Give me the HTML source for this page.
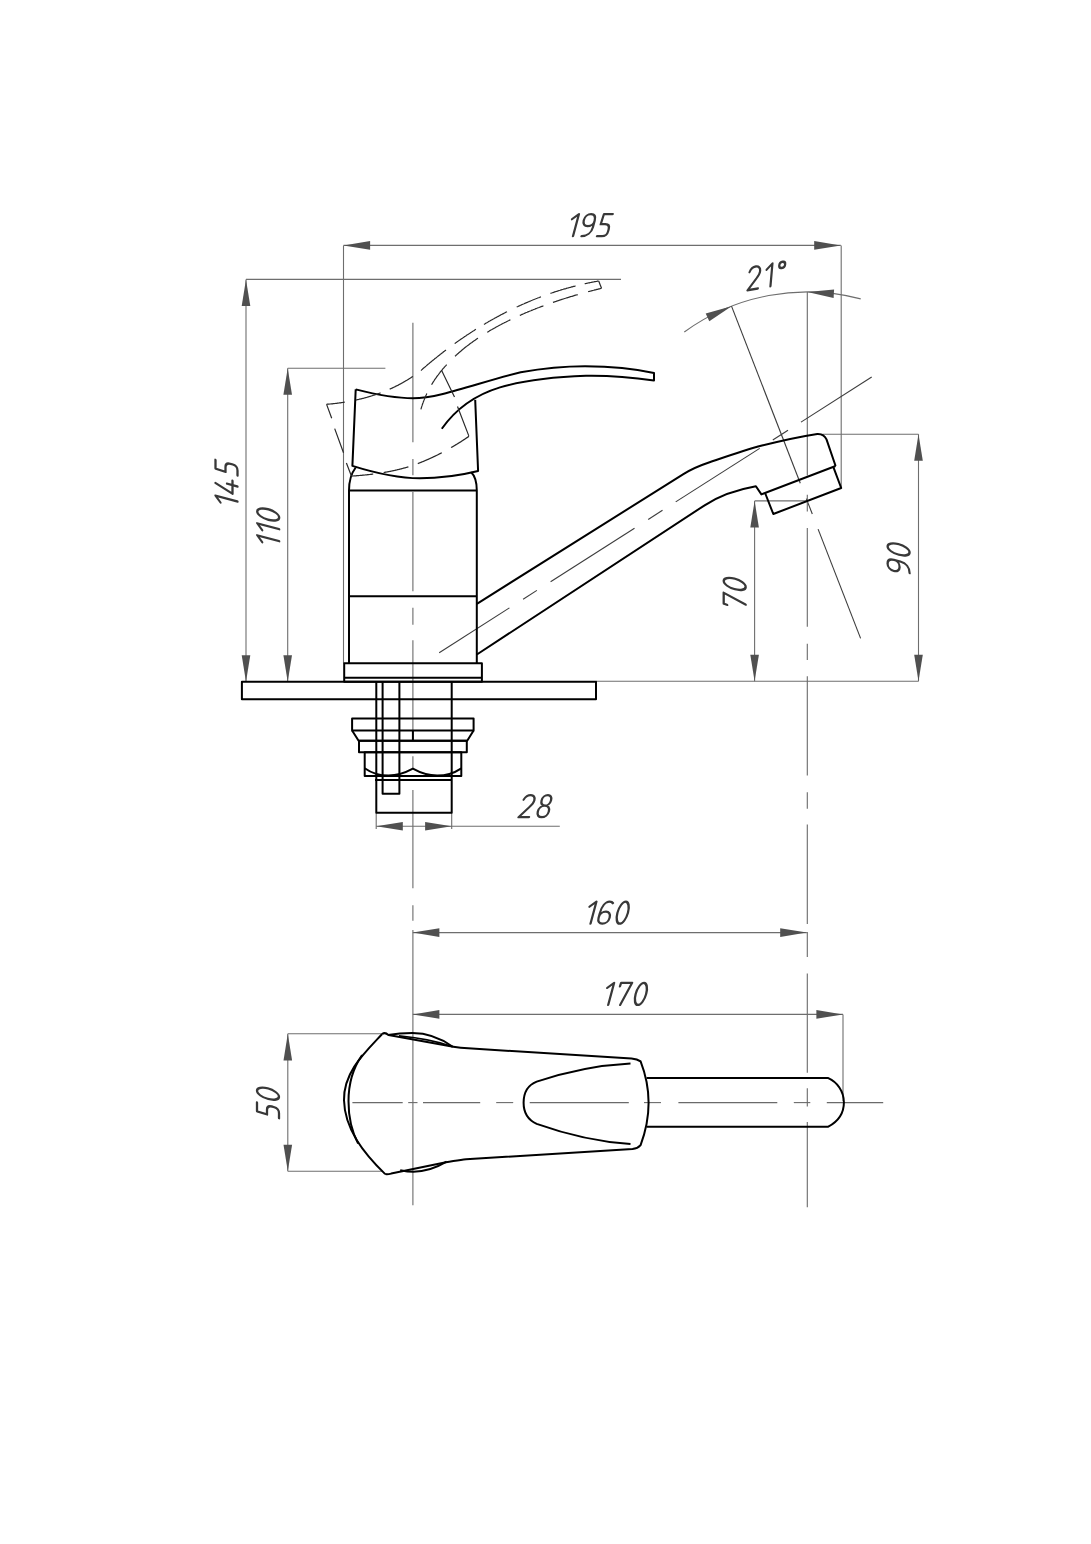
<!DOCTYPE html>
<html><head><meta charset="utf-8"><style>
html,body{margin:0;padding:0;background:#fff;}
svg{display:block;}
</style></head><body>
<svg width="1091" height="1544" viewBox="0 0 1091 1544">
<rect width="1091" height="1544" fill="#fff"/>
<line x1="343.5" y1="245.4" x2="840.8" y2="245.4" stroke="#6e6e6e" stroke-width="1.1" fill="none"/>
<polygon points="343.5,245.4 370.1,241.1 370.1,249.7" fill="#505050"/>
<polygon points="840.8,245.4 814.2,249.7 814.2,241.1" fill="#505050"/>
<line x1="343.5" y1="245.4" x2="343.5" y2="663.4" stroke="#6e6e6e" stroke-width="1.1" fill="none"/>
<line x1="841.2" y1="245.4" x2="841.2" y2="488.0" stroke="#6e6e6e" stroke-width="1.1" fill="none"/>
<g transform="translate(567.5,236.2) skewX(-15)" stroke="#383838" stroke-width="2.3" fill="none" stroke-linecap="round" stroke-linejoin="round" aria-label="195"><title>195</title><path transform="translate(0.00,0)" d="M0,-17 L5.5,-22 L5.5,0"/><path transform="translate(12.00,0)" d="M11,-15.5 C11,-19.8 8.6,-22 5.5,-22 C2.4,-22 0,-19.6 0,-16 C0,-12.4 2.4,-10 5.5,-10 C8.6,-10 11,-12.2 11,-15.5 L11,-9 C11,-3.5 7.5,0 2,0"/><path transform="translate(29.50,0)" d="M9.8,-22 L1,-22 L0.5,-12 L5,-12 Q9.8,-12 9.8,-7 L9.8,-5 Q9.8,0 5,0 L0,0"/></g>
<line x1="246.0" y1="279.4" x2="246.0" y2="681.8" stroke="#6e6e6e" stroke-width="1.1" fill="none"/>
<polygon points="246.0,279.4 250.3,306.0 241.7,306.0" fill="#505050"/>
<polygon points="246.0,681.8 241.7,655.2 250.3,655.2" fill="#505050"/>
<line x1="246.0" y1="279.4" x2="621.0" y2="279.4" stroke="#6e6e6e" stroke-width="1.1" fill="none"/>
<g transform="translate(237.5,507.0) rotate(-90) skewX(-15)" stroke="#383838" stroke-width="2.3" fill="none" stroke-linecap="round" stroke-linejoin="round" aria-label="145"><title>145</title><path transform="translate(0.00,0)" d="M0,-17 L5.5,-22 L5.5,0"/><path transform="translate(12.00,0)" d="M6,-22 L0,-5 L13,-5 M8.5,-10.5 L8.5,0"/><path transform="translate(31.50,0)" d="M9.8,-22 L1,-22 L0.5,-12 L5,-12 Q9.8,-12 9.8,-7 L9.8,-5 Q9.8,0 5,0 L0,0"/></g>
<line x1="287.7" y1="368.2" x2="287.7" y2="681.8" stroke="#6e6e6e" stroke-width="1.1" fill="none"/>
<polygon points="287.7,368.2 292.0,394.8 283.4,394.8" fill="#505050"/>
<polygon points="287.7,681.8 283.4,655.2 292.0,655.2" fill="#505050"/>
<line x1="287.7" y1="368.2" x2="385.4" y2="368.2" stroke="#6e6e6e" stroke-width="1.1" fill="none"/>
<g transform="translate(279.2,546.7) rotate(-90) skewX(-15)" stroke="#383838" stroke-width="2.3" fill="none" stroke-linecap="round" stroke-linejoin="round" aria-label="110"><title>110</title><path transform="translate(0.00,0)" d="M0,-17 L5.5,-22 L5.5,0"/><path transform="translate(12.00,0)" d="M0,-17 L5.5,-22 L5.5,0"/><path transform="translate(24.00,0)" d="M5.25,-22 C8.2,-22 10.5,-17 10.5,-11 C10.5,-5 8.2,0 5.25,0 C2.3,0 0,-5 0,-11 C0,-17 2.3,-22 5.25,-22 Z"/></g>
<line x1="596.0" y1="681.3" x2="918.5" y2="681.3" stroke="#6e6e6e" stroke-width="1.1" fill="none"/>
<line x1="754.6" y1="500.9" x2="754.6" y2="681.3" stroke="#6e6e6e" stroke-width="1.1" fill="none"/>
<polygon points="754.6,500.9 758.9,527.5 750.3,527.5" fill="#505050"/>
<polygon points="754.6,681.3 750.3,654.7 758.9,654.7" fill="#505050"/>
<line x1="754.6" y1="500.9" x2="807.0" y2="500.9" stroke="#6e6e6e" stroke-width="1.1" fill="none"/>
<g transform="translate(745.7,610.1) rotate(-90) skewX(-15)" stroke="#383838" stroke-width="2.3" fill="none" stroke-linecap="round" stroke-linejoin="round" aria-label="70"><title>70</title><path transform="translate(0.00,0)" d="M0.3,-18.5 L0.5,-22 L11.5,-22 L5.5,0"/><path transform="translate(18.00,0)" d="M5.25,-22 C8.2,-22 10.5,-17 10.5,-11 C10.5,-5 8.2,0 5.25,0 C2.3,0 0,-5 0,-11 C0,-17 2.3,-22 5.25,-22 Z"/></g>
<line x1="918.5" y1="434.2" x2="918.5" y2="681.3" stroke="#6e6e6e" stroke-width="1.1" fill="none"/>
<polygon points="918.5,434.2 922.8,460.8 914.2,460.8" fill="#505050"/>
<polygon points="918.5,681.3 914.2,654.7 922.8,654.7" fill="#505050"/>
<line x1="817.0" y1="434.2" x2="918.5" y2="434.2" stroke="#6e6e6e" stroke-width="1.1" fill="none"/>
<g transform="translate(909.6,575.1) rotate(-90) skewX(-15)" stroke="#383838" stroke-width="2.3" fill="none" stroke-linecap="round" stroke-linejoin="round" aria-label="90"><title>90</title><path transform="translate(0.00,0)" d="M11,-15.5 C11,-19.8 8.6,-22 5.5,-22 C2.4,-22 0,-19.6 0,-16 C0,-12.4 2.4,-10 5.5,-10 C8.6,-10 11,-12.2 11,-15.5 L11,-9 C11,-3.5 7.5,0 2,0"/><path transform="translate(17.50,0)" d="M5.25,-22 C8.2,-22 10.5,-17 10.5,-11 C10.5,-5 8.2,0 5.25,0 C2.3,0 0,-5 0,-11 C0,-17 2.3,-22 5.25,-22 Z"/></g>
<path d="M684.3,332.0 A209.2,209.2 0 0 1 860.7,298.9" stroke="#6e6e6e" stroke-width="1.1" fill="none"/>
<polygon points="731.6,306.2 709.3,321.2 705.7,313.4" fill="#505050"/>
<polygon points="807.3,292.0 834.1,289.4 833.6,298.0" fill="#505050"/>
<g transform="translate(747.5,290.3) rotate(-10) skewX(-15)" stroke="#383838" stroke-width="2.3" fill="none" stroke-linecap="round" stroke-linejoin="round" aria-label="21°"><title>21°</title><path transform="translate(0.00,0)" d="M0.5,-17.5 C1.5,-20.5 3.8,-22 6.2,-22 C9.2,-22 11.3,-19.8 11.3,-16.8 C11.3,-14 9.8,-12 8,-10 L0,0 L10.5,0"/><path transform="translate(17.80,0)" d="M0,-17 L5.5,-22 L5.5,0"/></g>
<g transform="translate(747.5,290.3) rotate(-10) skewX(-15)" stroke="#383838" stroke-width="2.3" fill="none" stroke-linecap="round" stroke-linejoin="round"><path transform="translate(30.5,0)" d="M3,-22 C4.7,-22 6,-20.7 6,-19 C6,-17.3 4.7,-16 3,-16 C1.3,-16 0,-17.3 0,-19 C0,-20.7 1.3,-22 3,-22 Z"/></g>
<line x1="731.5" y1="306.1" x2="800.3" y2="483.2" stroke="#3c3c3c" stroke-width="1.1" fill="none"/>
<line x1="806.3" y1="498.6" x2="812.3" y2="514.0" stroke="#3c3c3c" stroke-width="1.1" fill="none"/>
<line x1="818.1" y1="529.1" x2="860.6" y2="638.4" stroke="#3c3c3c" stroke-width="1.1" fill="none"/>
<line x1="807.3" y1="292.0" x2="807.3" y2="475.5" stroke="#6a6a6a" stroke-width="1.1" fill="none"/>
<line x1="807.3" y1="494.8" x2="807.3" y2="511.5" stroke="#6a6a6a" stroke-width="1.1" fill="none"/>
<line x1="807.3" y1="528.0" x2="807.3" y2="626.8" stroke="#6a6a6a" stroke-width="1.1" fill="none"/>
<line x1="807.3" y1="643.7" x2="807.3" y2="660.0" stroke="#6a6a6a" stroke-width="1.1" fill="none"/>
<line x1="807.3" y1="676.3" x2="807.3" y2="775.5" stroke="#6a6a6a" stroke-width="1.1" fill="none"/>
<line x1="807.3" y1="792.2" x2="807.3" y2="808.8" stroke="#6a6a6a" stroke-width="1.1" fill="none"/>
<line x1="807.3" y1="824.5" x2="807.3" y2="924.0" stroke="#6a6a6a" stroke-width="1.1" fill="none"/>
<line x1="807.3" y1="932.0" x2="807.3" y2="957.0" stroke="#6a6a6a" stroke-width="1.1" fill="none"/>
<line x1="807.3" y1="973.6" x2="807.3" y2="1072.7" stroke="#6a6a6a" stroke-width="1.1" fill="none"/>
<line x1="807.3" y1="1088.2" x2="807.3" y2="1106.5" stroke="#6a6a6a" stroke-width="1.1" fill="none"/>
<line x1="807.3" y1="1122.0" x2="807.3" y2="1207.3" stroke="#6a6a6a" stroke-width="1.1" fill="none"/>
<line x1="412.9" y1="322.8" x2="412.9" y2="442.2" stroke="#6a6a6a" stroke-width="1.1" fill="none"/>
<line x1="412.9" y1="459.0" x2="412.9" y2="475.3" stroke="#6a6a6a" stroke-width="1.1" fill="none"/>
<line x1="412.9" y1="492.0" x2="412.9" y2="591.3" stroke="#6a6a6a" stroke-width="1.1" fill="none"/>
<line x1="412.9" y1="607.7" x2="412.9" y2="624.7" stroke="#6a6a6a" stroke-width="1.1" fill="none"/>
<line x1="412.9" y1="640.3" x2="412.9" y2="740.8" stroke="#6a6a6a" stroke-width="1.1" fill="none"/>
<line x1="412.9" y1="756.3" x2="412.9" y2="768.5" stroke="#6a6a6a" stroke-width="1.1" fill="none"/>
<line x1="412.9" y1="790.0" x2="412.9" y2="888.3" stroke="#6a6a6a" stroke-width="1.1" fill="none"/>
<line x1="412.9" y1="905.2" x2="412.9" y2="920.7" stroke="#6a6a6a" stroke-width="1.1" fill="none"/>
<line x1="412.9" y1="930.0" x2="412.9" y2="1205.2" stroke="#6a6a6a" stroke-width="1.1" fill="none"/>
<line x1="376.2" y1="812.7" x2="376.2" y2="829.0" stroke="#6e6e6e" stroke-width="1.1" fill="none"/>
<line x1="451.7" y1="812.7" x2="451.7" y2="829.0" stroke="#6e6e6e" stroke-width="1.1" fill="none"/>
<line x1="376.2" y1="826.3" x2="559.8" y2="826.3" stroke="#6e6e6e" stroke-width="1.1" fill="none"/>
<polygon points="376.2,826.3 402.8,822.0 402.8,830.6" fill="#505050"/>
<polygon points="451.7,826.3 425.1,830.6 425.1,822.0" fill="#505050"/>
<g transform="translate(518.5,817.2) skewX(-15)" stroke="#383838" stroke-width="2.3" fill="none" stroke-linecap="round" stroke-linejoin="round" aria-label="28"><title>28</title><path transform="translate(0.00,0)" d="M0.5,-17.5 C1.5,-20.5 3.8,-22 6.2,-22 C9.2,-22 11.3,-19.8 11.3,-16.8 C11.3,-14 9.8,-12 8,-10 L0,0 L10.5,0"/><path transform="translate(17.80,0)" d="M5.5,-22 C8.2,-22 10.2,-20 10.2,-16.8 C10.2,-13.5 8.2,-11.5 5.5,-11.5 C2.8,-11.5 0.8,-13.5 0.8,-16.8 C0.8,-20 2.8,-22 5.5,-22 Z M5.5,-11.5 C8.7,-11.5 11,-9 11,-5.7 C11,-2.3 8.7,0 5.5,0 C2.3,0 0,-2.3 0,-5.7 C0,-9 2.3,-11.5 5.5,-11.5 Z"/></g>
<line x1="412.8" y1="932.6" x2="806.8" y2="932.6" stroke="#6e6e6e" stroke-width="1.1" fill="none"/>
<polygon points="412.8,932.6 439.4,928.3 439.4,936.9" fill="#505050"/>
<polygon points="806.8,932.6 780.2,936.9 780.2,928.3" fill="#505050"/>
<g transform="translate(585.0,923.7) skewX(-15)" stroke="#383838" stroke-width="2.3" fill="none" stroke-linecap="round" stroke-linejoin="round" aria-label="160"><title>160</title><path transform="translate(0.00,0)" d="M0,-17 L5.5,-22 L5.5,0"/><path transform="translate(12.00,0)" d="M10.5,-20.5 C9.5,-21.6 8,-22 6.5,-22 C2.6,-22 0,-17.5 0,-10 L0,-6 C0,-2.4 2.4,0 5.5,0 C8.6,0 11,-2.4 11,-6 C11,-9.6 8.6,-12 5.5,-12 C2.4,-12 0,-9.6 0,-6"/><path transform="translate(29.50,0)" d="M5.25,-22 C8.2,-22 10.5,-17 10.5,-11 C10.5,-5 8.2,0 5.25,0 C2.3,0 0,-5 0,-11 C0,-17 2.3,-22 5.25,-22 Z"/></g>
<line x1="412.8" y1="1014.4" x2="843.0" y2="1014.4" stroke="#6e6e6e" stroke-width="1.1" fill="none"/>
<polygon points="412.8,1014.4 439.4,1010.1 439.4,1018.7" fill="#505050"/>
<polygon points="843.0,1014.4 816.4,1018.7 816.4,1010.1" fill="#505050"/>
<line x1="843.0" y1="1014.4" x2="843.0" y2="1101.0" stroke="#6e6e6e" stroke-width="1.1" fill="none"/>
<g transform="translate(602.7,1004.9) skewX(-15)" stroke="#383838" stroke-width="2.3" fill="none" stroke-linecap="round" stroke-linejoin="round" aria-label="170"><title>170</title><path transform="translate(0.00,0)" d="M0,-17 L5.5,-22 L5.5,0"/><path transform="translate(12.00,0)" d="M0.3,-18.5 L0.5,-22 L11.5,-22 L5.5,0"/><path transform="translate(30.00,0)" d="M5.25,-22 C8.2,-22 10.5,-17 10.5,-11 C10.5,-5 8.2,0 5.25,0 C2.3,0 0,-5 0,-11 C0,-17 2.3,-22 5.25,-22 Z"/></g>
<line x1="287.8" y1="1033.8" x2="287.8" y2="1171.3" stroke="#6e6e6e" stroke-width="1.1" fill="none"/>
<polygon points="287.8,1033.8 292.1,1060.4 283.5,1060.4" fill="#505050"/>
<polygon points="287.8,1171.3 283.5,1144.7 292.1,1144.7" fill="#505050"/>
<line x1="287.8" y1="1033.8" x2="381.8" y2="1033.8" stroke="#6e6e6e" stroke-width="1.1" fill="none"/>
<line x1="287.8" y1="1171.3" x2="383.0" y2="1171.3" stroke="#6e6e6e" stroke-width="1.1" fill="none"/>
<g transform="translate(279.0,1118.2) rotate(-90) skewX(-15)" stroke="#383838" stroke-width="2.3" fill="none" stroke-linecap="round" stroke-linejoin="round" aria-label="50"><title>50</title><path transform="translate(0.00,0)" d="M9.8,-22 L1,-22 L0.5,-12 L5,-12 Q9.8,-12 9.8,-7 L9.8,-5 Q9.8,0 5,0 L0,0"/><path transform="translate(16.30,0)" d="M5.25,-22 C8.2,-22 10.5,-17 10.5,-11 C10.5,-5 8.2,0 5.25,0 C2.3,0 0,-5 0,-11 C0,-17 2.3,-22 5.25,-22 Z"/></g>
<line x1="439.2" y1="652.7" x2="509.4" y2="607.9" stroke="#3c3c3c" stroke-width="1.1" fill="none"/>
<line x1="523.1" y1="599.2" x2="536.9" y2="590.4" stroke="#3c3c3c" stroke-width="1.1" fill="none"/>
<line x1="550.6" y1="581.7" x2="634.5" y2="528.2" stroke="#3c3c3c" stroke-width="1.1" fill="none"/>
<line x1="648.2" y1="519.5" x2="662.5" y2="510.3" stroke="#3c3c3c" stroke-width="1.1" fill="none"/>
<line x1="675.7" y1="501.9" x2="759.7" y2="448.4" stroke="#3c3c3c" stroke-width="1.1" fill="none"/>
<line x1="772.8" y1="440.0" x2="788.0" y2="430.3" stroke="#3c3c3c" stroke-width="1.1" fill="none"/>
<line x1="801.0" y1="422.1" x2="871.7" y2="377.0" stroke="#3c3c3c" stroke-width="1.1" fill="none"/>
<line x1="352.4" y1="1102.6" x2="402.7" y2="1102.6" stroke="#6a6a6a" stroke-width="1.1" fill="none"/>
<line x1="408.2" y1="1102.6" x2="417.5" y2="1102.6" stroke="#6a6a6a" stroke-width="1.1" fill="none"/>
<line x1="423.0" y1="1102.6" x2="480.2" y2="1102.6" stroke="#6a6a6a" stroke-width="1.1" fill="none"/>
<line x1="496.2" y1="1102.6" x2="513.2" y2="1102.6" stroke="#6a6a6a" stroke-width="1.1" fill="none"/>
<line x1="529.7" y1="1102.6" x2="628.8" y2="1102.6" stroke="#6a6a6a" stroke-width="1.1" fill="none"/>
<line x1="644.0" y1="1102.6" x2="661.0" y2="1102.6" stroke="#6a6a6a" stroke-width="1.1" fill="none"/>
<line x1="678.4" y1="1102.6" x2="777.3" y2="1102.6" stroke="#6a6a6a" stroke-width="1.1" fill="none"/>
<line x1="793.8" y1="1102.6" x2="810.3" y2="1102.6" stroke="#6a6a6a" stroke-width="1.1" fill="none"/>
<line x1="826.8" y1="1102.6" x2="883.2" y2="1102.6" stroke="#6a6a6a" stroke-width="1.1" fill="none"/>
<rect x="241.9" y="681.8" width="354.1" height="17.5" stroke="#000" stroke-width="2" fill="none" stroke-linejoin="round"/>
<rect x="344.2" y="663.2" width="137.7" height="18.6" stroke="#000" stroke-width="2" fill="none" stroke-linejoin="round"/>
<line x1="344.2" y1="677.8" x2="481.9" y2="677.8" stroke="#000" stroke-width="2" fill="none" stroke-linejoin="round"/>
<path d="M349,663.2 L349,490.6 C349,480 351.5,473 355.7,467.5" stroke="#000" stroke-width="2" fill="none" stroke-linejoin="round" />
<path d="M476.8,663.2 L476.8,490.6 C476.8,482 475,476 471.2,472.3" stroke="#000" stroke-width="2" fill="none" stroke-linejoin="round" />
<line x1="349.0" y1="490.6" x2="476.8" y2="490.6" stroke="#000" stroke-width="2" fill="none" stroke-linejoin="round"/>
<line x1="349.0" y1="596.3" x2="476.8" y2="596.3" stroke="#000" stroke-width="2" fill="none" stroke-linejoin="round"/>
<path d="M355.7,389.4 C376,394.5 396,398.3 413,398.3 C440,398.3 480,382 520.7,372.3 C545,368 565,366.3 585,366.3 C612,366.5 637,369.3 654,373 L654,380.5 C630,377 605,375.5 586,375.8 C552,377 520,381.5 500,387.4 C475,395 455,410 441.8,428.8 M475.2,399.9 L478.1,471 C460,475.5 440,478.3 419.8,478.3 C398,478.3 375,473 352.4,465.9 L355.7,389.4" stroke="#000" stroke-width="2" fill="none" stroke-linejoin="round" />
<path d="M326.5,404.3 L326.8,404.3 L327.2,404.2 L327.5,404.2 L327.9,404.2 L328.2,404.2 L328.5,404.1 L328.9,404.1 L329.2,404.1 L329.5,404.0 L329.9,404.0 L330.2,404.0 L330.6,404.0 L330.9,403.9 L331.2,403.9 L331.6,403.9 L331.9,403.8 L332.2,403.8 L332.6,403.8 L332.9,403.7 L333.3,403.7 L333.6,403.6 L333.9,403.6 L334.3,403.6 L334.6,403.5 L335.0,403.5 L335.3,403.5 L335.6,403.4 L336.0,403.4 L336.3,403.3 L336.6,403.3 L337.0,403.3 L337.3,403.2 L337.7,403.2 L338.0,403.1 L338.3,403.1 L338.7,403.0 L339.0,403.0 L339.3,402.9 L339.7,402.9 L340.0,402.9 L340.4,402.8 L340.7,402.8 L341.0,402.7 L341.4,402.7 L341.7,402.6 L342.0,402.6 L342.4,402.5 L342.7,402.5 L343.0,402.4 L343.4,402.4 L343.7,402.3 L344.1,402.3 L344.4,402.2 L344.7,402.2" stroke="#2a2a2a" stroke-width="1.2" fill="none" stroke-linecap="butt"/>
<path d="M355.8,400.1 L356.1,400.0 L356.4,399.9 L356.8,399.9 L357.1,399.8 L357.4,399.7 L357.8,399.6 L358.1,399.6 L358.4,399.5 L358.8,399.4 L359.1,399.3 L359.4,399.2 L359.8,399.2 L360.1,399.1 L360.4,399.0 L360.7,398.9 L361.1,398.8 L361.4,398.8 L361.7,398.7 L362.1,398.6 L362.4,398.5 L362.7,398.4 L363.1,398.3 L363.4,398.3 L363.7,398.2 L364.0,398.1 L364.4,398.0 L364.7,397.9 L365.0,397.8 L365.4,397.7 L365.7,397.6 L366.0,397.6 L366.3,397.5 L366.7,397.4 L367.0,397.3 L367.3,397.2 L367.7,397.1 L368.0,397.0 L368.3,396.9 L368.6,396.8 L369.0,396.7 L369.3,396.6 L369.6,396.5 L369.9,396.4 L370.3,396.3 L370.6,396.2 L370.9,396.1 L371.2,396.0 L371.6,395.9 L371.9,395.8 L372.2,395.7 L372.5,395.6 L372.9,395.5 L373.2,395.4 L373.5,395.3 L373.8,395.2 L374.2,395.1 L374.5,395.0 L374.8,394.9 L375.1,394.8 L375.4,394.7 L375.8,394.6 L376.1,394.5 L376.4,394.4 L376.7,394.2 L377.1,394.1 L377.4,394.0 L377.7,393.9 L378.0,393.8 L378.3,393.7 L378.7,393.6 L379.0,393.5 L379.3,393.3 L379.6,393.2 L379.9,393.1 L380.3,393.0 L380.6,392.9" stroke="#2a2a2a" stroke-width="1.2" fill="none" stroke-linecap="butt"/>
<path d="M389.7,389.2 L390.0,389.0 L390.3,388.9 L390.6,388.8 L390.9,388.6 L391.2,388.5 L391.5,388.3 L391.9,388.2 L392.2,388.1 L392.5,387.9 L392.8,387.8 L393.1,387.6 L393.4,387.5 L393.7,387.3 L394.0,387.2 L394.3,387.0 L394.6,386.9 L394.9,386.7 L395.2,386.6 L395.5,386.4 L395.8,386.3 L396.1,386.1 L396.4,386.0 L396.7,385.8 L397.1,385.7 L397.4,385.5 L397.7,385.4 L398.0,385.2 L398.3,385.1 L398.6,384.9 L398.9,384.8 L399.2,384.6 L399.5,384.4 L399.8,384.3 L400.1,384.1 L400.4,384.0 L400.7,383.8 L401.0,383.6 L401.3,383.5 L401.6,383.3 L401.9,383.1 L402.2,383.0 L402.5,382.8 L402.7,382.7 L403.0,382.5 L403.3,382.3 L403.6,382.1 L403.9,382.0 L404.2,381.8 L404.5,381.6 L404.8,381.5 L405.1,381.3 L405.4,381.1 L405.7,380.9 L406.0,380.8 L406.3,380.6 L406.6,380.4 L406.9,380.2 L407.1,380.1 L407.4,379.9 L407.7,379.7 L408.0,379.5 L408.3,379.4 L408.6,379.2 L408.9,379.0 L409.2,378.8 L409.5,378.6 L409.8,378.4 L410.0,378.3 L410.3,378.1 L410.6,377.9 L410.9,377.7 L411.2,377.5 L411.5,377.3 L411.8,377.1 L412.0,377.0 L412.3,376.8 L412.6,376.6 L412.9,376.4" stroke="#2a2a2a" stroke-width="1.2" fill="none" stroke-linecap="butt"/>
<path d="M420.9,370.5 L420.9,370.5 L421.4,370.1 L421.9,369.6 L422.4,369.2 L422.9,368.7 L423.4,368.3 L424.0,367.8 L424.5,367.4 L425.0,367.0 L425.5,366.5 L426.0,366.1 L426.5,365.6 L427.0,365.2 L427.5,364.8 L428.1,364.3 L428.6,363.9 L429.1,363.5 L429.6,363.0 L430.1,362.6 L430.6,362.2 L431.2,361.7 L431.7,361.3 L432.2,360.9 L432.7,360.5 L433.3,360.0 L433.8,359.6 L434.3,359.2 L434.8,358.7 L435.3,358.3 L435.9,357.9 L436.4,357.5 L436.9,357.1 L437.5,356.6 L438.0,356.2 L438.5,355.8 L439.0,355.4 L439.6,355.0 L440.1,354.5 L440.6,354.1 L441.2,353.7 L441.7,353.3 L442.2,352.9 L442.8,352.5 L443.3,352.0 L443.8,351.6 L444.4,351.2 L444.9,350.8 L445.4,350.4 L446.0,350.0" stroke="#2a2a2a" stroke-width="1.2" fill="none" stroke-linecap="butt"/>
<path d="M454.7,343.6 L455.2,343.2 L455.8,342.8 L456.3,342.4 L456.9,342.0 L457.4,341.6 L458.0,341.2 L458.5,340.8 L459.1,340.5 L459.6,340.1 L460.2,339.7 L460.7,339.3 L461.3,338.9 L461.9,338.5 L462.4,338.2 L463.0,337.8 L463.5,337.4 L464.1,337.0 L464.6,336.6 L465.2,336.3 L465.8,335.9 L466.3,335.5 L466.9,335.1 L467.4,334.8 L468.0,334.4 L468.6,334.0 L469.1,333.7 L469.7,333.3 L470.3,332.9 L470.8,332.5 L471.4,332.2 L472.0,331.8 L472.5,331.4 L473.1,331.1 L473.7,330.7 L474.2,330.4 L474.8,330.0 L475.4,329.6 L475.9,329.3" stroke="#2a2a2a" stroke-width="1.2" fill="none" stroke-linecap="butt"/>
<path d="M484.0,324.4 L484.6,324.0 L485.2,323.7 L485.7,323.3 L486.3,323.0 L486.9,322.7 L487.5,322.3 L488.1,322.0 L488.7,321.6 L489.2,321.3 L489.8,321.0 L490.4,320.6 L491.0,320.3 L491.6,320.0 L492.2,319.6 L492.8,319.3 L493.3,319.0 L493.9,318.7 L494.5,318.3 L495.1,318.0 L495.7,317.7 L496.3,317.4 L496.9,317.0 L497.5,316.7 L498.1,316.4 L498.7,316.1 L499.3,315.8 L499.8,315.4 L500.4,315.1 L501.0,314.8 L501.6,314.5 L502.2,314.2 L502.8,313.9 L503.4,313.6 L504.0,313.3 L504.6,313.0 L505.2,312.6 L505.8,312.3 L506.4,312.0 L507.0,311.7" stroke="#2a2a2a" stroke-width="1.2" fill="none" stroke-linecap="butt"/>
<path d="M516.7,307.0 L517.3,306.7 L517.9,306.5 L518.5,306.2 L519.1,305.9 L519.8,305.6 L520.4,305.3 L521.0,305.1 L521.6,304.8 L522.2,304.5 L522.8,304.2 L523.4,304.0 L524.1,303.7 L524.7,303.4 L525.3,303.2 L525.9,302.9 L526.5,302.6 L527.1,302.4 L527.8,302.1 L528.4,301.8 L529.0,301.6 L529.6,301.3 L530.2,301.1 L530.9,300.8 L531.5,300.5 L532.1,300.3 L532.7,300.0 L533.3,299.8 L534.0,299.5 L534.6,299.3 L535.2,299.0 L535.8,298.8 L536.5,298.5 L537.1,298.3 L537.7,298.0 L538.4,297.8 L539.0,297.6 L539.6,297.3 L540.2,297.1 L540.9,296.8" stroke="#2a2a2a" stroke-width="1.2" fill="none" stroke-linecap="butt"/>
<path d="M550.4,293.4 L551.0,293.2 L551.6,293.0 L552.3,292.8 L552.9,292.6 L553.5,292.4 L554.2,292.1 L554.8,291.9 L555.5,291.7 L556.1,291.5 L556.7,291.3 L557.4,291.1 L558.0,290.9 L558.7,290.7 L559.3,290.5 L560.0,290.3 L560.6,290.1 L561.2,289.9 L561.9,289.7 L562.5,289.5 L563.2,289.3 L563.8,289.1 L564.5,288.9 L565.1,288.8 L565.8,288.6 L566.4,288.4 L567.1,288.2 L567.7,288.0 L568.4,287.8 L569.0,287.7 L569.7,287.5 L570.3,287.3 L571.0,287.1 L571.6,286.9 L572.3,286.8 L572.9,286.6 L573.6,286.4 L574.2,286.3 L574.9,286.1 L575.5,285.9" stroke="#2a2a2a" stroke-width="1.2" fill="none" stroke-linecap="butt"/>
<path d="M584.7,283.7 L585.4,283.6 L586.1,283.5 L586.7,283.3 L587.4,283.2 L588.0,283.0 L588.7,282.9 L589.4,282.8 L590.0,282.6 L590.7,282.5 L591.4,282.4 L592.0,282.2 L592.7,282.1 L593.4,282.0 L594.0,281.8 L594.7,281.7 L595.4,281.6 L596.0,281.5 L596.7,281.4 L597.4,281.2 L598.0,281.1 L598.7,281.0" stroke="#2a2a2a" stroke-width="1.2" fill="none" stroke-linecap="butt"/>
<path d="M598.7,281 L601.5,288.3" stroke="#2a2a2a" stroke-width="1.2" fill="none" stroke-linecap="butt"/>
<path d="M588.1,291.7 L588.8,291.5 L589.5,291.3 L590.2,291.2 L590.9,291.0 L591.5,290.8 L592.2,290.6 L592.9,290.5 L593.6,290.3 L594.2,290.1 L594.9,289.9 L595.6,289.8 L596.2,289.6 L596.9,289.4 L597.6,289.3 L598.2,289.1 L598.9,288.9 L599.5,288.8 L600.2,288.6 L600.8,288.5 L601.5,288.3" stroke="#2a2a2a" stroke-width="1.2" fill="none" stroke-linecap="butt"/>
<path d="M553.0,302.4 L553.8,302.1 L554.5,301.9 L555.2,301.6 L556.0,301.4 L556.7,301.1 L557.4,300.9 L558.2,300.6 L558.9,300.4 L559.6,300.1 L560.4,299.9 L561.1,299.7 L561.8,299.4 L562.6,299.2 L563.3,299.0 L564.0,298.7 L564.7,298.5 L565.5,298.3 L566.2,298.0 L566.9,297.8 L567.6,297.6 L568.4,297.4 L569.1,297.2 L569.8,296.9 L570.5,296.7 L571.3,296.5 L572.0,296.3 L572.7,296.1 L573.4,295.9 L574.1,295.6 L574.8,295.4 L575.5,295.2 L576.3,295.0 L577.0,294.8 L577.7,294.6" stroke="#2a2a2a" stroke-width="1.2" fill="none" stroke-linecap="butt"/>
<path d="M519.8,315.4 L520.6,315.1 L521.3,314.7 L522.0,314.4 L522.8,314.1 L523.5,313.8 L524.2,313.5 L525.0,313.1 L525.7,312.8 L526.4,312.5 L527.2,312.2 L527.9,311.9 L528.6,311.6 L529.4,311.3 L530.1,311.0 L530.9,310.7 L531.6,310.4 L532.3,310.1 L533.1,309.8 L533.8,309.5 L534.6,309.2 L535.3,308.9 L536.0,308.6 L536.8,308.3 L537.5,308.0 L538.3,307.7 L539.0,307.5 L539.7,307.2 L540.5,306.9 L541.2,306.6 L542.0,306.3 L542.7,306.1 L543.4,305.8" stroke="#2a2a2a" stroke-width="1.2" fill="none" stroke-linecap="butt"/>
<path d="M487.2,332.3 L487.9,331.9 L488.6,331.5 L489.3,331.1 L490.0,330.6 L490.6,330.2 L491.3,329.8 L492.0,329.5 L492.7,329.1 L493.4,328.7 L494.1,328.3 L494.8,327.9 L495.5,327.5 L496.2,327.1 L496.9,326.7 L497.6,326.3 L498.3,326.0 L499.0,325.6 L499.7,325.2 L500.4,324.8 L501.1,324.5 L501.8,324.1 L502.5,323.7 L503.2,323.3 L503.9,323.0 L504.6,322.6 L505.4,322.3 L506.1,321.9 L506.8,321.5 L507.5,321.2 L508.2,320.8 L508.9,320.5 L509.7,320.1 L510.4,319.8" stroke="#2a2a2a" stroke-width="1.2" fill="none" stroke-linecap="butt"/>
<path d="M455.0,356.2 L455.6,355.7 L456.1,355.2 L456.7,354.7 L457.2,354.2 L457.8,353.7 L458.4,353.2 L458.9,352.7 L459.5,352.2 L460.1,351.7 L460.7,351.2 L461.3,350.7 L461.8,350.2 L462.4,349.7 L463.0,349.2 L463.6,348.8 L464.2,348.3 L464.8,347.8 L465.4,347.3 L466.0,346.8 L466.6,346.4 L467.2,345.9 L467.8,345.4 L468.5,345.0 L469.1,344.5 L469.7,344.0 L470.3,343.6 L470.9,343.1 L471.6,342.7 L472.2,342.2 L472.8,341.7 L473.5,341.3 L474.1,340.8 L474.7,340.4 L475.4,340.0 L476.0,339.5 L476.7,339.1 L477.3,338.6 L478.0,338.2" stroke="#2a2a2a" stroke-width="1.2" fill="none" stroke-linecap="butt"/>
<path d="M431.6,384.7 L432.0,384.0 L432.4,383.4 L432.7,382.8 L433.1,382.2 L433.5,381.6 L433.9,381.0 L434.3,380.3 L434.7,379.7 L435.1,379.1 L435.5,378.5 L436.0,377.9 L436.4,377.3 L436.8,376.7 L437.2,376.1 L437.7,375.5 L438.1,375.0 L438.5,374.4 L439.0,373.8 L439.4,373.2 L439.9,372.6 L440.3,372.0 L440.8,371.5 L441.2,370.9 L441.7,370.3 L442.2,369.8 L442.6,369.2 L443.1,368.6 L443.6,368.1 L444.1,367.5 L444.6,366.9 L445.1,366.4 L445.6,365.8 L446.1,365.3 L446.6,364.7" stroke="#2a2a2a" stroke-width="1.2" fill="none" stroke-linecap="butt"/>
<path d="M420.9,409.4 L421.1,408.7 L421.3,408.0 L421.5,407.3 L421.7,406.6 L422.0,405.9 L422.2,405.2 L422.4,404.5 L422.7,403.8 L422.9,403.1 L423.2,402.4 L423.4,401.7 L423.7,401.0 L423.9,400.3 L424.2,399.7 L424.5,399.0 L424.7,398.3 L425.0,397.6 L425.3,397.0 L425.6,396.3 L425.9,395.6 L426.2,395.0 L426.5,394.3 L426.8,393.6" stroke="#2a2a2a" stroke-width="1.2" fill="none" stroke-linecap="butt"/>
<path d="M441.4,369.9 L454.5,397 M457.5,406.5 L468.8,435.9" stroke="#2a2a2a" stroke-width="1.2" fill="none" stroke-linecap="butt"/>
<path d="M469.0,436.3 L468.8,436.4 L468.7,436.5 L468.5,436.6 L468.4,436.7 L468.2,436.8 L468.1,436.9 L467.9,437.0 L467.8,437.2 L467.6,437.3 L467.5,437.4 L467.3,437.5 L467.1,437.6 L467.0,437.7 L466.8,437.8 L466.7,437.9 L466.5,438.0 L466.4,438.1 L466.2,438.2 L466.0,438.3 L465.9,438.4 L465.7,438.5 L465.6,438.6 L465.4,438.7 L465.3,438.8 L465.1,439.0 L464.9,439.1 L464.8,439.2 L464.6,439.3 L464.5,439.4 L464.3,439.5 L464.2,439.6 L464.0,439.7 L463.8,439.8 L463.7,439.9 L463.5,440.0 L463.4,440.1 L463.2,440.2 L463.0,440.3 L462.9,440.4 L462.7,440.5 L462.6,440.6 L462.4,440.7 L462.2,440.8 L462.1,440.9 L461.9,441.0 L461.8,441.1 L461.6,441.3 L461.4,441.4 L461.3,441.5 L461.1,441.6 L460.9,441.7 L460.8,441.8 L460.6,441.9 L460.5,442.0 L460.3,442.1 L460.1,442.2 L460.0,442.3 L459.8,442.4 L459.6,442.5 L459.5,442.6 L459.3,442.7 L459.2,442.8 L459.0,442.9 L458.8,443.0 L458.7,443.1 L458.5,443.2 L458.3,443.3 L458.2,443.4 L458.0,443.5 L457.8,443.6 L457.7,443.7 L457.5,443.8 L457.3,443.9 L457.2,444.0 L457.0,444.1 L456.9,444.2 L456.7,444.3 L456.5,444.4 L456.4,444.5 L456.2,444.6 L456.0,444.7 L455.9,444.8 L455.7,444.9 L455.5,445.0 L455.4,445.1 L455.2,445.2 L455.0,445.3 L454.9,445.4 L454.7,445.5 L454.5,445.6 L454.4,445.7 L454.2,445.8 L454.0,445.9 L453.9,446.0 L453.7,446.1 L453.5,446.2 L453.4,446.3 L453.2,446.4 L453.0,446.5 L452.8,446.6 L452.7,446.7 L452.5,446.8 L452.3,446.9 L452.2,447.0 L452.0,447.1 L451.8,447.2 L451.7,447.3 L451.5,447.4 L451.3,447.5 L451.2,447.6" stroke="#2a2a2a" stroke-width="1.2" fill="none" stroke-linecap="butt"/>
<path d="M441.8,452.7 L441.6,452.8 L441.4,452.9 L441.3,453.0 L441.1,453.1 L440.9,453.2 L440.7,453.3 L440.6,453.4 L440.4,453.5 L440.2,453.6 L440.0,453.7 L439.8,453.7 L439.7,453.8 L439.5,453.9 L439.3,454.0 L439.1,454.1 L439.0,454.2 L438.8,454.3 L438.6,454.4 L438.4,454.5 L438.2,454.6 L438.1,454.6 L437.9,454.7 L437.7,454.8 L437.5,454.9 L437.4,455.0 L437.2,455.1 L437.0,455.2 L436.8,455.3 L436.6,455.4 L436.5,455.4 L436.3,455.5 L436.1,455.6 L435.9,455.7 L435.7,455.8 L435.6,455.9 L435.4,456.0 L435.2,456.1 L435.0,456.1 L434.8,456.2 L434.6,456.3 L434.5,456.4 L434.3,456.5 L434.1,456.6 L433.9,456.7 L433.7,456.7 L433.6,456.8 L433.4,456.9 L433.2,457.0 L433.0,457.1 L432.8,457.2 L432.7,457.3 L432.5,457.3 L432.3,457.4 L432.1,457.5 L431.9,457.6 L431.7,457.7 L431.6,457.8 L431.4,457.9 L431.2,457.9 L431.0,458.0 L430.8,458.1 L430.6,458.2 L430.5,458.3 L430.3,458.4 L430.1,458.4 L429.9,458.5 L429.7,458.6 L429.5,458.7 L429.4,458.8 L429.2,458.9 L429.0,458.9 L428.8,459.0 L428.6,459.1 L428.4,459.2 L428.3,459.3 L428.1,459.3 L427.9,459.4 L427.7,459.5 L427.5,459.6 L427.3,459.7 L427.1,459.7 L427.0,459.8 L426.8,459.9 L426.6,460.0 L426.4,460.1 L426.2,460.2 L426.0,460.2 L425.9,460.3 L425.7,460.4 L425.5,460.5 L425.3,460.5 L425.1,460.6 L424.9,460.7 L424.7,460.8 L424.6,460.9 L424.4,460.9 L424.2,461.0 L424.0,461.1 L423.8,461.2 L423.6,461.3 L423.4,461.3 L423.2,461.4 L423.1,461.5 L422.9,461.6 L422.7,461.6 L422.5,461.7 L422.3,461.8 L422.1,461.9 L421.9,461.9 L421.7,462.0 L421.6,462.1 L421.4,462.2 L421.2,462.3 L421.0,462.3 L420.8,462.4 L420.6,462.5 L420.4,462.6 L420.2,462.6 L420.1,462.7 L419.9,462.8 L419.7,462.9 L419.5,462.9 L419.3,463.0 L419.1,463.1 L418.9,463.1 L418.7,463.2 L418.5,463.3 L418.4,463.4 L418.2,463.4 L418.0,463.5 L418.0,463.5 L417.8,463.6" stroke="#2a2a2a" stroke-width="1.2" fill="none" stroke-linecap="butt"/>
<path d="M408.4,466.8 L408.2,466.9 L408.0,466.9 L407.7,467.0 L407.5,467.1 L407.3,467.1 L407.1,467.2 L406.9,467.3 L406.7,467.3 L406.5,467.4 L406.3,467.5 L406.0,467.5 L405.8,467.6 L405.6,467.6 L405.4,467.7 L405.2,467.8 L405.0,467.8 L404.7,467.9 L404.5,467.9 L404.3,468.0 L404.1,468.1 L403.9,468.1 L403.7,468.2 L403.4,468.2 L403.2,468.3 L403.0,468.4 L402.8,468.4 L402.6,468.5 L402.4,468.5 L402.1,468.6 L401.9,468.7 L401.7,468.7 L401.5,468.8 L401.3,468.8 L401.1,468.9 L400.8,468.9 L400.6,469.0 L400.4,469.0 L400.2,469.1 L400.0,469.2 L399.7,469.2 L399.5,469.3 L399.3,469.3 L399.1,469.4 L398.9,469.4 L398.6,469.5 L398.4,469.5 L398.2,469.6 L398.0,469.6 L397.8,469.7 L397.5,469.7 L397.3,469.8 L397.1,469.9 L396.9,469.9 L396.7,470.0 L396.4,470.0 L396.2,470.1 L396.0,470.1 L395.8,470.2 L395.5,470.2 L395.3,470.3 L395.1,470.3 L394.9,470.4 L394.7,470.4 L394.4,470.5 L394.2,470.5 L394.0,470.6 L393.8,470.6 L393.5,470.7 L393.3,470.7 L393.1,470.7 L392.9,470.8 L392.7,470.8 L392.4,470.9 L392.2,470.9 L392.0,471.0 L391.8,471.0 L391.5,471.1 L391.3,471.1 L391.1,471.2 L390.9,471.2 L390.6,471.3 L390.4,471.3 L390.2,471.3 L390.0,471.4 L389.7,471.4 L389.5,471.5 L389.3,471.5 L389.1,471.6 L388.8,471.6 L388.6,471.6 L388.4,471.7 L388.1,471.7 L387.9,471.8 L387.7,471.8 L387.5,471.9 L387.2,471.9 L387.0,471.9 L386.8,472.0 L386.6,472.0 L386.3,472.1 L386.1,472.1 L385.9,472.1 L385.7,472.2 L385.4,472.2 L385.2,472.3 L385.0,472.3 L384.7,472.3 L384.5,472.4 L384.3,472.4 L384.1,472.5 L383.8,472.5 L383.6,472.5" stroke="#2a2a2a" stroke-width="1.2" fill="none" stroke-linecap="butt"/>
<path d="M373.2,474.1 L373.0,474.1 L372.8,474.1 L372.5,474.1 L372.3,474.2 L372.1,474.2 L371.8,474.2 L371.6,474.3 L371.4,474.3 L371.1,474.3 L370.9,474.3 L370.7,474.4 L370.4,474.4 L370.2,474.4 L370.0,474.5 L369.7,474.5 L369.5,474.5 L369.3,474.5 L369.0,474.6 L368.8,474.6 L368.6,474.6 L368.3,474.6 L368.1,474.7 L367.9,474.7 L367.6,474.7 L367.4,474.7 L367.2,474.8 L366.9,474.8 L366.7,474.8 L366.4,474.8 L366.2,474.9 L366.0,474.9 L365.7,474.9 L365.5,474.9 L365.3,475.0 L365.0,475.0 L364.8,475.0 L364.6,475.0 L364.3,475.1 L364.1,475.1 L363.9,475.1 L363.6,475.1 L363.4,475.1 L363.2,475.2 L362.9,475.2 L362.7,475.2 L362.5,475.2 L362.2,475.3 L362.0,475.3 L361.7,475.3 L361.5,475.3 L361.3,475.3 L361.0,475.4 L360.8,475.4 L360.6,475.4 L360.3,475.4 L360.1,475.4 L359.9,475.5 L359.6,475.5 L359.4,475.5 L359.1,475.5 L358.9,475.5 L358.7,475.6 L358.4,475.6 L358.2,475.6 L358.0,475.6 L357.7,475.6 L357.5,475.7 L357.3,475.7 L357.0,475.7 L356.8,475.7 L356.5,475.7 L356.3,475.8 L356.1,475.8 L355.8,475.8 L355.6,475.8 L355.4,475.8 L355.1,475.8 L354.9,475.9 L354.7,475.9 L354.4,475.9 L354.2,475.9 L353.9,475.9 L353.7,475.9 L353.5,476.0 L353.2,476.0 L353.0,476.0 L352.8,476.0 L352.5,476.0 L352.3,476.0 L352.0,476.1 L351.8,476.1 L351.6,476.1" stroke="#2a2a2a" stroke-width="1.2" fill="none" stroke-linecap="butt"/>
<path d="M351.5,476.2 L346.4,463 M343.5,452.8 L334.7,428.6 M331.7,418.3 L326.6,404.4" stroke="#2a2a2a" stroke-width="1.2" fill="none" stroke-linecap="butt"/>
<path d="M476.9,603.8 L683.4,474.1 C692,468.6 700,465.4 709.6,462.2 C725,457 745,450 762,445.5 C778,441.5 797,437 817.3,433.9 C822,433.7 825,436 826.5,439.4 L835.6,466" stroke="#000" stroke-width="2" fill="none" stroke-linejoin="round" />
<path d="M476.9,654.5 L704.6,505.3 C720,495.2 740,489 755.9,486.2 L761.4,494.4 L835.6,466" stroke="#000" stroke-width="2" fill="none" stroke-linejoin="round" />
<path d="M765.1,493 L773.3,514 L841.2,488 L833.4,467.2" stroke="#000" stroke-width="2" fill="none" stroke-linejoin="round" />
<path d="M376.3,682 L376.3,812.7 L451.7,812.7 L451.7,682" stroke="#000" stroke-width="2" fill="none" stroke-linejoin="round" />
<path d="M382.6,682 L382.6,793.7 L399.4,793.7 L399.4,682" stroke="#000" stroke-width="2" fill="none" stroke-linejoin="round" />
<path d="M352.1,730.5 L352.1,718.4 L473.6,718.4 L473.6,730.5 Z" stroke="#000" stroke-width="2" fill="none" stroke-linejoin="round" />
<path d="M352.1,730.5 L358.6,740.8 L467.2,740.8 L473.6,730.5" stroke="#000" stroke-width="2" fill="none" stroke-linejoin="round" />
<rect x="359" y="740.8" width="107.8" height="11.4" stroke="#000" stroke-width="2" fill="none" stroke-linejoin="round"/>
<rect x="364.7" y="752.2" width="96.6" height="23.9" stroke="#000" stroke-width="2" fill="none" stroke-linejoin="round"/>
<path d="M364.7,768.3 C372,773.5 380,775.6 388.5,775.6 C397,775.6 405,773 412.9,768.7 C420.5,773 428.5,775.6 437.2,775.6 C445.5,775.6 453.5,773.5 461.3,768.3" stroke="#000" stroke-width="2" fill="none" stroke-linejoin="round" />
<line x1="375.0" y1="780.0" x2="451.7" y2="780.0" stroke="#000" stroke-width="2" fill="none" stroke-linejoin="round"/>
<line x1="412.9" y1="730.5" x2="412.9" y2="740.8" stroke="#000" stroke-width="2" fill="none" stroke-linejoin="round"/>
<path d="M382.2,1034 C364.9,1052.5 343.4,1072 344,1100.3 C344.6,1128.8 363.4,1152.8 385.2,1174.1" stroke="#000" stroke-width="2" fill="none" stroke-linejoin="round" />
<path d="M362.1,1055.1 C353,1068 348.5,1085 348.5,1101.3 C348.5,1118 352,1132 358.1,1143.5" stroke="#000" stroke-width="2" fill="none" stroke-linejoin="round" />
<path d="M382.2,1034 C384,1032.6 386.5,1033.2 388.5,1035.1 L453.3,1046.7 C458,1047.5 462,1048 468.1,1048.3 L631.5,1058.4 C636,1058.8 638.5,1059.8 640.6,1061.4 C645.5,1074 648.6,1088 648.6,1102.8 C648.6,1118 645.5,1132 640.6,1145.1 C638.5,1147.5 636,1148.7 632.5,1149.1 L466.1,1159.2 C460,1159.8 455,1160.8 446,1162.2 L391.2,1173.6 C388.5,1174.3 386.5,1174.3 385.2,1174.1" stroke="#000" stroke-width="2" fill="none" stroke-linejoin="round" />
<path d="M388,1035 C396,1033.6 404,1033 412.3,1033 C428,1033 442,1039 452.7,1046.7" stroke="#000" stroke-width="2" fill="none" stroke-linejoin="round" />
<path d="M399,1035.8 Q432,1039 452.7,1046.7" stroke="#000" stroke-width="1.7" fill="none" />
<path d="M400.2,1170.2 C405,1171.2 409,1171.8 413.5,1171.8 C425,1171.8 436,1168 446.6,1161.7" stroke="#000" stroke-width="2" fill="none" stroke-linejoin="round" />
<path d="M630.5,1063.4 C600,1065 565,1072 536.7,1081.6 C528,1085 523.6,1093 523.6,1102.8 C523.6,1112 528,1120 536.7,1123.9 C565,1134 600,1142 630.5,1144.1" stroke="#000" stroke-width="2" fill="none" stroke-linejoin="round" />
<path d="M646.6,1078.1 L828.3,1078.1 C837,1082 843.9,1091 843.9,1102.5 C843.9,1114 837,1122 828.3,1126.7 L646.6,1126.7" stroke="#000" stroke-width="2" fill="none" stroke-linejoin="round" />
</svg>
</body></html>
